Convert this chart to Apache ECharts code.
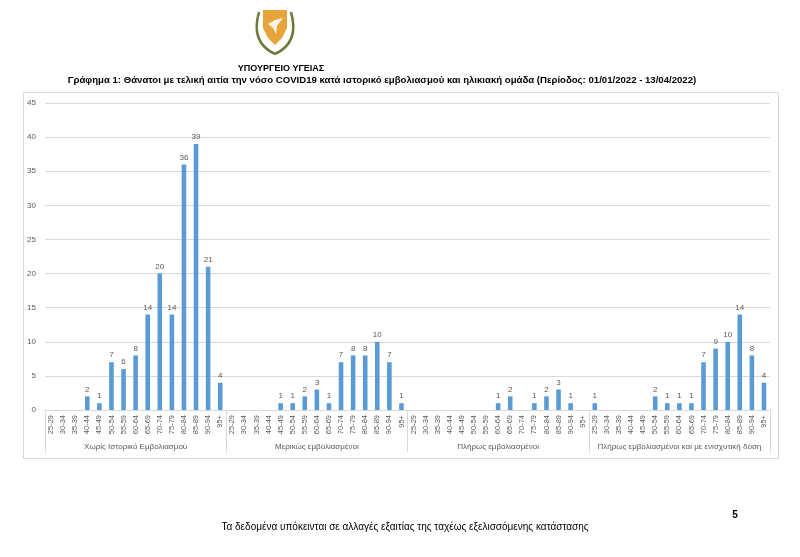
<!DOCTYPE html>
<html>
<head>
<meta charset="utf-8">
<script src="https://cdn.jsdelivr.net/npm/echarts@6/dist/echarts.min.js"></script>
<style>
html,body{margin:0;padding:0;background:#fff;}
#c{width:800px;height:557px;}
</style>
</head>
<body>
<div id="c"></div>
<script>
const ageGroups = ['25-29','30-34','35-39','40-44','45-49','50-54','55-59','60-64','65-69','70-74','75-79','80-84','85-89','90-94','95+'];
const groupNames = ['Χωρίς Ιστορικό Εμβολιασμού','Μερικώς εμβολιασμένοι','Πλήρως εμβολιασμένοι','Πλήρως εμβολιασμένοι και με ενισχυτική δόση'];
const unvaccinated = [0,0,0,2,1,7,6,8,14,20,14,36,39,21,4];
const partially = [0,0,0,0,1,1,2,3,1,7,8,8,10,7,1];
const fully = [0,0,0,0,0,0,0,1,2,0,1,2,3,1,0];
const boosted = [1,0,0,0,0,2,1,1,1,7,9,10,14,8,4];
const yTicks = {min:0, max:45, interval:5};

const groupsData = [unvaccinated, partially, fully, boosted];
const cats = [];
const vals = [];
groupsData.forEach((g, gi) => {
  ageGroups.forEach((a, i) => { cats.push(a); vals.push(g[i]); });
});

const FONT = "'Liberation Sans Narrow','Liberation Sans','Noto Sans',sans-serif";
const chart = echarts.init(document.getElementById('c'), null, {renderer:'canvas'});
chart.setOption({
  animation:false,
  textStyle:{fontFamily:FONT},
  title:[
    {text:'ΥΠΟΥΡΓΕΙΟ ΥΓΕΙΑΣ', left:276, top:59, textAlign:'center',
     textStyle:{fontSize:9, fontWeight:'bold', color:'#000', fontFamily:FONT}},
    {text:'Γράφημα 1: Θάνατοι με τελική αιτία την νόσο COVID19 κατά ιστορικό εμβολιασμού και ηλικιακή ομάδα (Περίοδος: 01/01/2022 - 13/04/2022)',
     left:377, top:70, textAlign:'center',
     textStyle:{fontSize:9.6, fontWeight:'bold', color:'#000', fontFamily:FONT}},
    {text:'Τα δεδομένα υπόκεινται σε αλλαγές εξαιτίας της ταχέως εξελισσόμενης κατάστασης',
     left:400, top:517, textAlign:'center',
     textStyle:{fontSize:10, fontWeight:'normal', color:'#000', fontFamily:FONT}},
    {text:'5', left:730, top:505, textAlign:'center',
     textStyle:{fontSize:10, fontWeight:'bold', color:'#000', fontFamily:FONT}}
  ],
  graphic:[
    {type:'rect', shape:{x:23.5, y:92.5, width:755, height:366},
     style:{fill:'none', stroke:'#d9d9d9', lineWidth:1}, silent:true},
    {type:'polygon', shape:{points:[[263,10],[287,10],[287,28],[282,38],[275,45],[268,38],[263,28]]},
     style:{fill:'#e9a33b'}, silent:true},
    {type:'polygon', shape:{points:[[268,24],[275,20],[283,18],[277,26],[276,34],[273,28]]},
     style:{fill:'#fff5e0'}, silent:true},
    {type:'bezierCurve', shape:{x1:259,y1:12,x2:275,y2:54,cpx1:252,cpy1:36,cpx2:262,cpy2:48},
     style:{stroke:'#6b7a3a', lineWidth:2.5, fill:'none'}, silent:true},
    {type:'bezierCurve', shape:{x1:291,y1:12,x2:275,y2:54,cpx1:298,cpy1:36,cpx2:288,cpy2:48},
     style:{stroke:'#6b7a3a', lineWidth:2.5, fill:'none'}, silent:true}
  ],
  grid:{left:45, right:30, top:103, bottom:147, containLabel:false},
  xAxis:[
    {type:'category', data:cats, position:'bottom',
     axisLine:{show:true, lineStyle:{color:'#d9d9d9'}},
     axisTick:{show:false},
     axisLabel:{interval:0, rotate:90, fontSize:7.5, color:'#595959', margin:5, fontFamily:FONT}},
    {type:'category', data:groupNames, position:'bottom', offset:0,
     axisLine:{show:false},
     axisTick:{show:true, length:42, interval:0, lineStyle:{color:'#d9d9d9'}},
     axisLabel:{interval:0, fontSize:8, color:'#595959', margin:33, fontFamily:FONT}}
  ],
  yAxis:{type:'value', min:yTicks.min, max:yTicks.max, interval:yTicks.interval,
    axisLine:{show:false}, axisTick:{show:false},
    axisLabel:{fontSize:8, color:'#595959', margin:9, fontFamily:FONT},
    splitLine:{lineStyle:{color:'#d9d9d9'}}},
  series:[{
    type:'bar', xAxisIndex:0, data:vals, barWidth:'38%',
    itemStyle:{color:'#5b9bd5'},
    label:{show:true, position:'top', fontSize:8, color:'#595959', distance:3, fontFamily:FONT,
      formatter:p => p.value === 0 ? '' : p.value}
  }]
});
</script>
</body>
</html>
